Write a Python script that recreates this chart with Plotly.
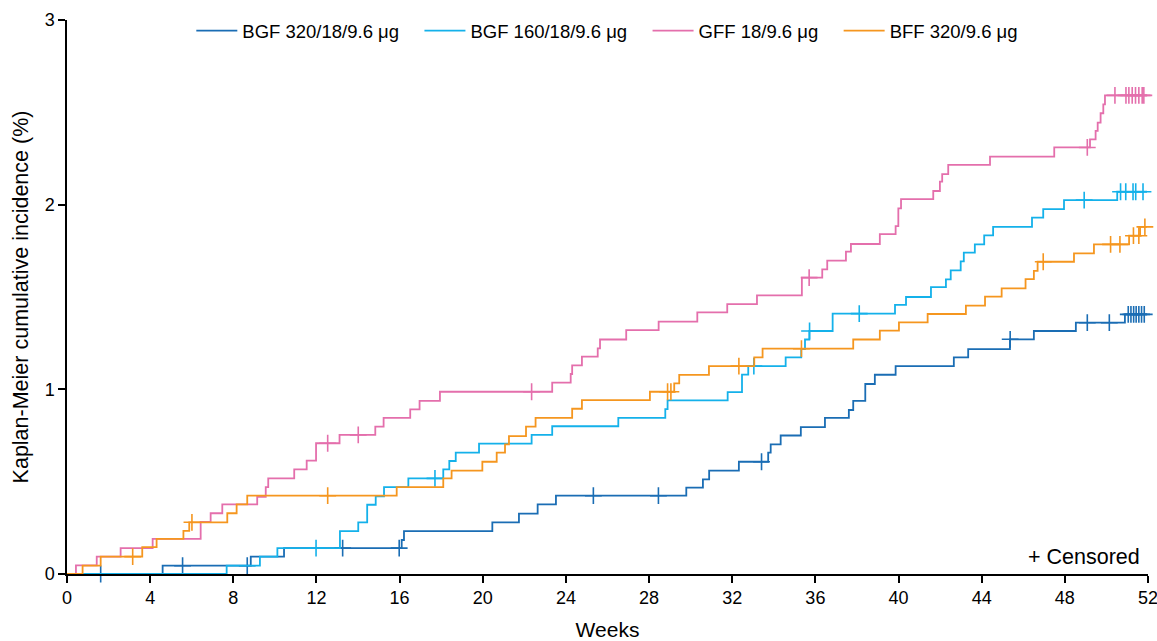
import numpy as np
import plotly.graph_objects as go

# ---------------- data (weeks, cumulative incidence %) ----------------
series_names = ["BGF 320/18/9.6 μg", "BGF 160/18/9.6 μg", "GFF 18/9.6 μg", "BFF 320/9.6 μg"]
series_colors = ["#1a6db4", "#14b1ea", "#e46fac", "#f5961f"]

bgf320_t = [4.60, 8.84, 10.44, 16.10, 16.21, 20.46, 21.74, 22.64, 23.52, 29.79, 30.59, 30.89,
            32.32, 33.73, 33.85, 34.33, 35.30, 36.46, 37.61, 37.82, 38.40, 38.86, 39.86, 42.66,
            43.35, 45.36, 46.51, 48.53, 50.89]
bgf320_v = [0.045, 0.094, 0.140, 0.184, 0.232, 0.280, 0.327, 0.377, 0.424, 0.468, 0.512, 0.560,
            0.608, 0.657, 0.702, 0.750, 0.795, 0.846, 0.888, 0.938, 1.029, 1.079, 1.126, 1.173,
            1.218, 1.271, 1.316, 1.361, 1.406]
bgf320_c = [1.62, 5.56, 8.67, 13.26, 15.98, 25.32, 28.45, 33.41, 45.37, 49.08, 50.14,
            51.05, 51.18, 51.31, 51.43, 51.56, 51.69, 51.82]

bgf160_t = [7.68, 9.28, 10.12, 13.13, 14.01, 14.44, 14.85, 15.25, 16.42, 18.10, 18.39, 18.70,
            19.82, 22.35, 23.34, 26.52, 28.78, 28.89, 31.78, 32.47, 32.77, 34.57, 35.32, 35.50,
            35.71, 36.83, 39.83, 40.36, 41.56, 42.28, 42.51, 42.99, 43.14, 43.67, 44.12, 44.55,
            46.42, 46.96, 47.96, 50.52]
bgf160_v = [0.045, 0.094, 0.140, 0.232, 0.280, 0.375, 0.420, 0.470, 0.518, 0.567, 0.612, 0.657,
            0.706, 0.753, 0.800, 0.846, 0.893, 0.940, 0.985, 1.080, 1.126, 1.173, 1.218, 1.270,
            1.316, 1.410, 1.457, 1.500, 1.553, 1.595, 1.644, 1.693, 1.740, 1.785, 1.834, 1.880,
            1.930, 1.976, 2.025, 2.070]
bgf160_c = [11.98, 17.70, 33.04, 35.72, 38.11, 48.93, 50.68, 50.93, 51.28, 51.41, 51.76]

gff_t = [0.43, 1.43, 2.58, 4.12, 6.43, 6.91, 7.47, 9.15, 9.56, 9.68, 10.93, 11.53, 11.98,
         13.11, 14.83, 15.23, 16.51, 16.96, 17.94, 23.34, 24.23, 24.30, 24.77, 25.53, 25.64,
         26.90, 28.46, 30.32, 31.76, 33.19, 35.35, 36.33, 36.57, 37.47, 37.71, 39.10, 39.86,
         39.99, 40.12, 41.67, 41.99, 42.10, 42.39, 44.40, 47.49, 49.21, 49.48, 49.58, 49.72,
         49.85, 49.93]
gff_v = [0.047, 0.094, 0.140, 0.190, 0.282, 0.329, 0.377, 0.418, 0.470, 0.518, 0.567, 0.614,
         0.708, 0.753, 0.798, 0.846, 0.892, 0.938, 0.987, 1.036, 1.083, 1.130, 1.177, 1.222,
         1.270, 1.321, 1.367, 1.417, 1.462, 1.509, 1.605, 1.650, 1.697, 1.746, 1.787, 1.840,
         1.884, 1.980, 2.030, 2.074, 2.125, 2.166, 2.216, 2.260, 2.310, 2.354, 2.400, 2.444,
         2.495, 2.543, 2.592]
gff_c = [12.54, 14.01, 22.35, 35.70, 49.08, 50.41, 50.94, 51.08, 51.24, 51.40, 51.56, 51.72, 51.80]

bff_t = [0.75, 1.62, 3.62, 4.31, 5.60, 5.88, 7.71, 8.16, 8.67, 15.86, 18.10, 18.50, 19.98,
         20.67, 21.07, 21.26, 22.08, 22.54, 24.30, 24.77, 28.04, 29.21, 29.45, 30.88, 33.06,
         33.46, 37.82, 39.10, 40.02, 41.40, 43.24, 44.16, 44.96, 46.11, 46.51, 46.69, 48.44,
         49.40, 51.09, 51.62]
bff_v = [0.045, 0.094, 0.145, 0.190, 0.233, 0.280, 0.329, 0.377, 0.424, 0.470, 0.518, 0.560,
         0.608, 0.657, 0.702, 0.747, 0.798, 0.845, 0.895, 0.942, 0.987, 1.032, 1.078, 1.126,
         1.173, 1.220, 1.270, 1.318, 1.363, 1.408, 1.453, 1.502, 1.547, 1.597, 1.642, 1.691,
         1.736, 1.785, 1.832, 1.880]
bff_c = [3.16, 6.01, 12.54, 28.89, 29.05, 32.32, 35.33, 46.96, 50.20, 50.65, 51.30, 51.56, 51.85]

end_week = 51.95
series_t = [bgf320_t, bgf160_t, gff_t, bff_t]
series_v = [bgf320_v, bgf160_v, gff_v, bff_v]
series_c = [bgf320_c, bgf160_c, gff_c, bff_c]

x_ticks = list(range(0, 53, 4))
y_ticks = [0, 1, 2, 3]

FONT = "Liberation Sans, Arial, Helvetica, sans-serif"
PAD = "\u00a0\u00a0\u00a0"

fig = go.Figure()
for name, col, t, v, c in zip(series_names, series_colors, series_t, series_v, series_c):
    xs = [0.0] + list(t) + [end_week]
    ys = [0.0] + list(v) + [v[-1]]
    fig.add_trace(go.Scatter(x=xs, y=ys, mode="lines", line=dict(color=col, width=1.8, shape="hv"),
                             name=name + PAD, legendgroup=name, hoverinfo="skip"))
    t_arr = np.array(t)
    v_arr = np.concatenate([[0.0], np.array(v)])
    idx = np.searchsorted(t_arr, np.array(c), side="right")
    cy = v_arr[idx]
    fig.add_trace(go.Scatter(x=c, y=cy, mode="markers", showlegend=False, legendgroup=name,
                             marker=dict(symbol="cross-thin", size=12, line=dict(color=col, width=1.6)),
                             hoverinfo="skip", cliponaxis=False))

fig.update_layout(
    width=1157, height=641,
    margin=dict(l=67, r=9, t=20, b=67, autoexpand=False),
    plot_bgcolor="white", paper_bgcolor="white",
    font=dict(family=FONT, color="black", size=18),
    showlegend=True,
    legend=dict(orientation="h", x=0.115, xanchor="left", y=0.98, yanchor="middle",
                itemwidth=41, font=dict(size=18.5), bgcolor="rgba(0,0,0,0)"),
    xaxis=dict(range=[0, 52.0001], tickvals=x_ticks, ticktext=[str(v) for v in x_ticks],
               showline=True, linecolor="black", linewidth=1.5, ticks="outside", ticklen=7,
               tickwidth=1.5, tickcolor="black", showgrid=False, zeroline=False,
               ticklabeloverflow="allow", automargin=False,
               tickfont=dict(size=18), title=dict(text="Weeks", font=dict(size=21), standoff=15)),
    yaxis=dict(range=[0, 3.0001], tickvals=y_ticks, ticktext=[str(v) for v in y_ticks],
               showline=True, linecolor="black", linewidth=1.5, ticks="outside", ticklen=7,
               tickwidth=1.5, tickcolor="black", showgrid=False, zeroline=False,
               ticklabeloverflow="allow", automargin=False,
               tickfont=dict(size=18),
               title=dict(text="Kaplan-Meier cumulative incidence (%)", font=dict(size=21.5), standoff=10)),
    annotations=[dict(text="+ Censored", x=1, xref="paper", xanchor="right", xshift=-6,
                      y=0, yref="paper", yanchor="bottom", yshift=3, showarrow=False,
                      font=dict(size=21.5))],
)

fig.write_html("out.html")
